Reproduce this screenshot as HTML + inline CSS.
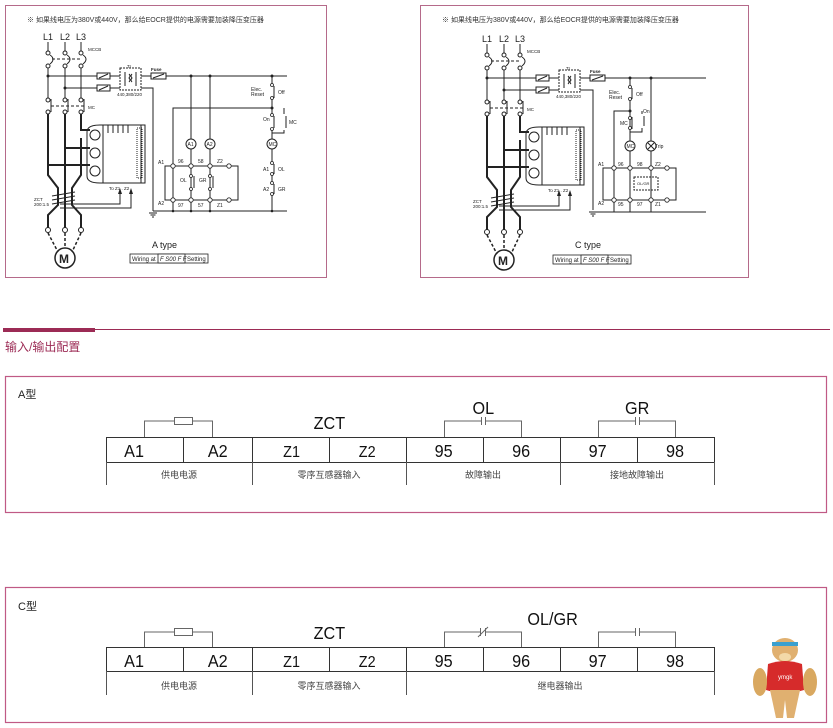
<!DOCTYPE html>
<html><head><meta charset="utf-8"><style>
html,body{margin:0;padding:0;background:#fff;width:833px;height:728px;overflow:hidden}
svg text{font-family:"Liberation Sans","Noto Sans CJK SC",sans-serif}
</style></head><body>
<svg width="833" height="728" viewBox="0 0 833 728" xmlns="http://www.w3.org/2000/svg">
<rect x="5.5" y="5.5" width="321" height="272" fill="none" stroke="#b56a8a" stroke-width="1"/>
<rect x="420.5" y="5.5" width="328" height="272" fill="none" stroke="#b56a8a" stroke-width="1"/>
<text x="27" y="22" font-size="7" fill="#333">※ 如果线电压为380V或440V，那么给EOCR提供的电源需要加装降压变压器</text>
<text x="442" y="22" font-size="7" fill="#333">※ 如果线电压为380V或440V，那么给EOCR提供的电源需要加装降压变压器</text>

<g>
<g stroke="#222" fill="none" stroke-width="1">
 <line x1="48" y1="42" x2="48" y2="51"/><line x1="65" y1="42" x2="65" y2="51"/><line x1="81" y1="42" x2="81" y2="51"/>
 <circle cx="48" cy="53" r="2"/><circle cx="65" cy="53" r="2"/><circle cx="81" cy="53" r="2"/>
 <path d="M50 55 Q56 59 50 64 M67 55 Q73 59 67 64 M83 55 Q89 59 83 64"/>
 <line x1="52" y1="59" x2="82" y2="59" stroke-dasharray="3,2"/>
 <circle cx="48" cy="66" r="2"/><circle cx="65" cy="66" r="2"/><circle cx="81" cy="66" r="2"/>
 <line x1="48" y1="68" x2="48" y2="98"/><line x1="65" y1="68" x2="65" y2="98"/><line x1="81" y1="68" x2="81" y2="98"/>
 <circle cx="48" cy="100" r="2"/><circle cx="65" cy="100" r="2"/><circle cx="81" cy="100" r="2"/>
 <path d="M51 99 L51 112 M68 99 L68 112 M84 99 L84 112"/>
 <line x1="51" y1="106" x2="84" y2="106" stroke-dasharray="3,2"/>
 <circle cx="48" cy="112" r="2"/><circle cx="65" cy="112" r="2"/><circle cx="81" cy="112" r="2"/>
 <g stroke-width="2">
 <path d="M48 114 L48 175 L58 188 L58 205 L48 215 L48 228"/>
 <path d="M65 114 L65 228"/>
 <path d="M81 114 L81 130 L90 130"/>
 <path d="M65 148 L90 148"/>
 <path d="M48 165 L90 165"/>
 <path d="M81 138 L81 175 L72 188 L72 205 L81 215 L81 228"/>
 </g>
 <line x1="52" y1="196" x2="75" y2="192"/><line x1="52" y1="200" x2="75" y2="196"/><line x1="52" y1="204" x2="75" y2="200"/>
 <circle cx="48" cy="230" r="2.5"/><circle cx="65" cy="230" r="2.5"/><circle cx="81" cy="230" r="2.5"/>
 <path d="M48 233 L58 252 M65 233 L65 247 M81 233 L72 252" stroke-dasharray="3,2" stroke-width="1.5"/>
 <circle cx="65" cy="258" r="10" stroke-width="1.5"/>
 <path d="M87 132 Q87 125 100 125 L145 125 L145 183 L100 183 Q87 183 87 176 Z"/>
 <circle cx="95" cy="135" r="5"/><circle cx="95" cy="153" r="5"/><circle cx="95" cy="171" r="5"/>
 <rect x="103" y="125" width="38" height="58"/>
 <path d="M108 125 v8 M113 125 v8 M118 125 v8 M123 125 v8 M128 125 v8"/>
 <rect x="137" y="128" width="5" height="50" stroke-dasharray="1,1"/>
 <path d="M60 204 L120 204 L120 193 M60 208 L131 208 L131 193"/>
 <line x1="48" y1="76" x2="97" y2="76"/><line x1="110" y1="76" x2="120" y2="76"/><line x1="141" y1="76" x2="151" y2="76"/>
 <line x1="65" y1="88" x2="97" y2="88"/><line x1="110" y1="88" x2="120" y2="88"/>
 <rect x="97" y="73" width="13" height="6"/><line x1="99" y1="78" x2="108" y2="74"/>
 <rect x="97" y="85" width="13" height="6"/><line x1="99" y1="90" x2="108" y2="86"/>
 <rect x="120" y="68" width="21" height="22" stroke-dasharray="2,1"/>
 <path d="M125 72 v14 M136 72 v14 M129 74 q2 2 0 4 q2 2 0 4 M132 74 q-2 2 0 4 q-2 2 0 4"/>
 <rect x="151" y="73" width="15" height="6"/><line x1="153" y1="78" x2="164" y2="74"/>
</g>
<g fill="#222"><polygon points="120,188 118,194 122,194"/><polygon points="131,188 129,194 133,194"/>
<circle cx="48" cy="76" r="1.5"/><circle cx="65" cy="88" r="1.5"/></g>
<g fill="#222" font-size="9"><text x="43" y="40">L1</text><text x="60" y="40">L2</text><text x="76" y="40">L3</text>
<text x="59" y="263" font-size="12" font-weight="bold">M</text></g>
<g fill="#222" font-size="4.5"><text x="88" y="51">MCCB</text><text x="88" y="109">MC</text><text x="127" y="68">Tr</text>
<text x="117" y="96">440,380/220</text><text x="151" y="71" font-weight="bold">Fuse</text>
<text x="34" y="201">ZCT</text><text x="34" y="206">200:1.5</text><text x="109" y="190">To Z1 . Z2</text></g>
</g>

<g transform="translate(439,2)">
<g stroke="#222" fill="none" stroke-width="1">
 <line x1="48" y1="42" x2="48" y2="51"/><line x1="65" y1="42" x2="65" y2="51"/><line x1="81" y1="42" x2="81" y2="51"/>
 <circle cx="48" cy="53" r="2"/><circle cx="65" cy="53" r="2"/><circle cx="81" cy="53" r="2"/>
 <path d="M50 55 Q56 59 50 64 M67 55 Q73 59 67 64 M83 55 Q89 59 83 64"/>
 <line x1="52" y1="59" x2="82" y2="59" stroke-dasharray="3,2"/>
 <circle cx="48" cy="66" r="2"/><circle cx="65" cy="66" r="2"/><circle cx="81" cy="66" r="2"/>
 <line x1="48" y1="68" x2="48" y2="98"/><line x1="65" y1="68" x2="65" y2="98"/><line x1="81" y1="68" x2="81" y2="98"/>
 <circle cx="48" cy="100" r="2"/><circle cx="65" cy="100" r="2"/><circle cx="81" cy="100" r="2"/>
 <path d="M51 99 L51 112 M68 99 L68 112 M84 99 L84 112"/>
 <line x1="51" y1="106" x2="84" y2="106" stroke-dasharray="3,2"/>
 <circle cx="48" cy="112" r="2"/><circle cx="65" cy="112" r="2"/><circle cx="81" cy="112" r="2"/>
 <g stroke-width="2">
 <path d="M48 114 L48 175 L58 188 L58 205 L48 215 L48 228"/>
 <path d="M65 114 L65 228"/>
 <path d="M81 114 L81 130 L90 130"/>
 <path d="M65 148 L90 148"/>
 <path d="M48 165 L90 165"/>
 <path d="M81 138 L81 175 L72 188 L72 205 L81 215 L81 228"/>
 </g>
 <line x1="52" y1="196" x2="75" y2="192"/><line x1="52" y1="200" x2="75" y2="196"/><line x1="52" y1="204" x2="75" y2="200"/>
 <circle cx="48" cy="230" r="2.5"/><circle cx="65" cy="230" r="2.5"/><circle cx="81" cy="230" r="2.5"/>
 <path d="M48 233 L58 252 M65 233 L65 247 M81 233 L72 252" stroke-dasharray="3,2" stroke-width="1.5"/>
 <circle cx="65" cy="258" r="10" stroke-width="1.5"/>
 <path d="M87 132 Q87 125 100 125 L145 125 L145 183 L100 183 Q87 183 87 176 Z"/>
 <circle cx="95" cy="135" r="5"/><circle cx="95" cy="153" r="5"/><circle cx="95" cy="171" r="5"/>
 <rect x="103" y="125" width="38" height="58"/>
 <path d="M108 125 v8 M113 125 v8 M118 125 v8 M123 125 v8 M128 125 v8"/>
 <rect x="137" y="128" width="5" height="50" stroke-dasharray="1,1"/>
 <path d="M60 204 L120 204 L120 193 M60 208 L131 208 L131 193"/>
 <line x1="48" y1="76" x2="97" y2="76"/><line x1="110" y1="76" x2="120" y2="76"/><line x1="141" y1="76" x2="151" y2="76"/>
 <line x1="65" y1="88" x2="97" y2="88"/><line x1="110" y1="88" x2="120" y2="88"/>
 <rect x="97" y="73" width="13" height="6"/><line x1="99" y1="78" x2="108" y2="74"/>
 <rect x="97" y="85" width="13" height="6"/><line x1="99" y1="90" x2="108" y2="86"/>
 <rect x="120" y="68" width="21" height="22" stroke-dasharray="2,1"/>
 <path d="M125 72 v14 M136 72 v14 M129 74 q2 2 0 4 q2 2 0 4 M132 74 q-2 2 0 4 q-2 2 0 4"/>
 <rect x="151" y="73" width="15" height="6"/><line x1="153" y1="78" x2="164" y2="74"/>
</g>
<g fill="#222"><polygon points="120,188 118,194 122,194"/><polygon points="131,188 129,194 133,194"/>
<circle cx="48" cy="76" r="1.5"/><circle cx="65" cy="88" r="1.5"/></g>
<g fill="#222" font-size="9"><text x="43" y="40">L1</text><text x="60" y="40">L2</text><text x="76" y="40">L3</text>
<text x="59" y="263" font-size="12" font-weight="bold">M</text></g>
<g fill="#222" font-size="4.5"><text x="88" y="51">MCCB</text><text x="88" y="109">MC</text><text x="127" y="68">Tr</text>
<text x="117" y="96">440,380/220</text><text x="151" y="71" font-weight="bold">Fuse</text>
<text x="34" y="201">ZCT</text><text x="34" y="206">200:1.5</text><text x="109" y="190">To Z1 . Z2</text></g>
</g>

<g stroke="#222" fill="none" stroke-width="1">
 <line x1="166" y1="76" x2="287" y2="76"/>
 <path d="M141 88 L153 88 L153 211"/>
 <path d="M149 213 h8 M150.5 215 h5 M152 217 h2"/>
 <line x1="153" y1="211" x2="287" y2="211"/>
 <line x1="191" y1="76" x2="191" y2="139"/><circle cx="191" cy="144" r="5"/><line x1="191" y1="149" x2="191" y2="211"/>
 <line x1="210" y1="76" x2="210" y2="139"/><circle cx="210" cy="144" r="5"/><line x1="210" y1="149" x2="210" y2="211"/>
 <path d="M272 108 L173 108 L173 211"/>
 <rect x="165" y="166" width="73" height="34"/>
 <path d="M194 176 v12 M213 176 v12"/>
 <line x1="272" y1="76" x2="272" y2="84"/><path d="M274 86 v12"/><line x1="272" y1="99" x2="272" y2="114"/>
 <path d="M274 116 v12 M284 108 L284 114 M286 116 v12 M284 130 L284 133 L272 133"/>
 <line x1="272" y1="130" x2="272" y2="139"/><circle cx="272" cy="144" r="5"/>
 <line x1="272" y1="149" x2="272" y2="162"/><path d="M274 164 v10"/><line x1="272" y1="175" x2="272" y2="182"/>
 <path d="M274 184 v10"/><line x1="272" y1="195" x2="272" y2="211"/>
</g>
<g fill="#fff" stroke="#222" stroke-width="0.8">
 <circle cx="173" cy="166" r="2.2"/><circle cx="191" cy="166" r="2.2"/><circle cx="210" cy="166" r="2.2"/><circle cx="229" cy="166" r="2.2"/>
 <circle cx="173" cy="200" r="2.2"/><circle cx="191" cy="200" r="2.2"/><circle cx="210" cy="200" r="2.2"/><circle cx="229" cy="200" r="2.2"/>
 <circle cx="191" cy="176" r="1.5"/><circle cx="191" cy="189" r="1.5"/><circle cx="210" cy="176" r="1.5"/><circle cx="210" cy="189" r="1.5"/>
 <circle cx="272" cy="85" r="1.5"/><circle cx="272" cy="98" r="1.5"/><circle cx="272" cy="115" r="1.5"/><circle cx="272" cy="129" r="1.5"/>
 <circle cx="272" cy="163" r="1.5"/><circle cx="272" cy="174" r="1.5"/><circle cx="272" cy="183" r="1.5"/><circle cx="272" cy="194" r="1.5"/>
</g>
<g fill="#222"><circle cx="191" cy="76" r="1.5"/><circle cx="210" cy="76" r="1.5"/><circle cx="272" cy="76" r="1.5"/><circle cx="272" cy="108" r="1.5"/><circle cx="173" cy="211" r="1.3"/><circle cx="191" cy="211" r="1.3"/><circle cx="210" cy="211" r="1.3"/><circle cx="272" cy="211" r="1.3"/></g>
<g fill="#222" font-size="5">
 <text x="187.5" y="146">A1</text><text x="206.5" y="146">A2</text><text x="268.5" y="146">MC</text>
 <text x="158" y="164">A1</text><text x="178" y="163">96</text><text x="198" y="163">58</text><text x="217" y="163">Z2</text>
 <text x="180" y="182">OL</text><text x="199" y="182">GR</text>
 <text x="158" y="205">A2</text><text x="178" y="207">97</text><text x="198" y="207">57</text><text x="217" y="207">Z1</text>
 <text x="251" y="91">Elec.</text><text x="251" y="96">Reset</text><text x="278" y="94">Off</text>
 <text x="263" y="121">On</text><text x="289" y="124">MC</text>
 <text x="263" y="171">A1</text><text x="278" y="171">OL</text><text x="263" y="191">A2</text><text x="278" y="191">GR</text>
</g>
<text x="152" y="248" font-size="9" font-family="Liberation Mono" fill="#222">A type</text>
<rect x="130" y="254" width="78" height="9" fill="none" stroke="#222" stroke-width="0.8"/>
<rect x="158" y="254" width="27" height="9" fill="#fff" stroke="#222" stroke-width="0.8"/>
<g fill="#222" font-size="6"><text x="132" y="261">Wiring at</text><text x="160" y="261" font-style="italic">F S00 F F</text><text x="187" y="261">Setting</text></g>

<g stroke="#222" fill="none" stroke-width="1">
 <line x1="605" y1="78" x2="706" y2="78"/>
 <path d="M580 90 L593 90 L593 210"/>
 <path d="M589 212 h8 M590.5 214 h5 M592 216 h2"/>
 <line x1="593" y1="212" x2="706" y2="212"/>
 <line x1="630" y1="78" x2="630" y2="86"/><path d="M632 88 v11"/><line x1="630" y1="100" x2="630" y2="141"/>
 <path d="M630 111 L614 111 L614 212"/>
 <path d="M632 117 v12 M642 111 L642 114 M644 116 v10 M642 128 L642 132 L630 132"/>
 <circle cx="630" cy="146" r="5"/><line x1="630" y1="151" x2="630" y2="212"/>
 <line x1="651" y1="78" x2="651" y2="141"/><circle cx="651" cy="146" r="5"/><line x1="651" y1="151" x2="651" y2="212"/>
 <path d="M648 143 l6 6 M654 143 l-6 6"/>
 <rect x="603" y="168" width="73" height="32"/>
 <rect x="634" y="177" width="24" height="13" stroke-dasharray="2,1"/>
</g>
<g fill="#fff" stroke="#222" stroke-width="0.8">
 <circle cx="614" cy="168" r="2.2"/><circle cx="630" cy="168" r="2.2"/><circle cx="651" cy="168" r="2.2"/><circle cx="667" cy="168" r="2.2"/>
 <circle cx="614" cy="200" r="2.2"/><circle cx="630" cy="200" r="2.2"/><circle cx="651" cy="200" r="2.2"/><circle cx="667" cy="200" r="2.2"/>
 <circle cx="630" cy="87" r="1.5"/><circle cx="630" cy="99" r="1.5"/><circle cx="630" cy="118" r="1.5"/><circle cx="630" cy="128" r="1.5"/>
</g>
<g fill="#222"><circle cx="630" cy="78" r="1.5"/><circle cx="651" cy="78" r="1.5"/><circle cx="630" cy="111" r="1.5"/></g>
<g fill="#222" font-size="5">
 <text x="626.5" y="148">MC</text><text x="655" y="148">Trip</text>
 <text x="598" y="166">A1</text><text x="618" y="166">96</text><text x="637" y="166">98</text><text x="655" y="166">Z2</text>
 <text x="637" y="185" font-size="4">OL/GR</text>
 <text x="598" y="205">A2</text><text x="618" y="206">95</text><text x="637" y="206">97</text><text x="655" y="206">Z1</text>
 <text x="609" y="94">Elec.</text><text x="609" y="99">Reset</text><text x="636" y="96">Off</text>
 <text x="643" y="113">On</text><text x="620" y="125">MC</text>
</g>
<text x="575" y="248" font-size="9" font-family="Liberation Mono" fill="#222">C type</text>
<rect x="553" y="255" width="78" height="9" fill="none" stroke="#222" stroke-width="0.8"/>
<rect x="581" y="255" width="27" height="9" fill="#fff" stroke="#222" stroke-width="0.8"/>
<g fill="#222" font-size="6"><text x="555" y="262">Wiring at</text><text x="583" y="262" font-style="italic">F S00 F F</text><text x="610" y="262">Setting</text></g>

<rect x="3" y="328" width="92" height="4" fill="#9c2b55"/>
<line x1="95" y1="329.5" x2="830" y2="329.5" stroke="#9c2b55" stroke-width="1"/>
<text x="5" y="351" font-size="12" fill="#9c2b55">输入/输出配置</text>

<rect x="5.5" y="376.5" width="821" height="136" fill="none" stroke="#c05a85" stroke-width="1.2"/>
<text x="18" y="398" font-size="11" fill="#222">A型</text>
<g stroke="#333" fill="none" stroke-width="1">
 <rect x="106.5" y="437.5" width="608" height="25"/>
 <path d="M183.5 437v25 M252.5 437v25 M329.5 437v25 M406.5 437v25 M483.5 437v25 M560.5 437v25 M637.5 437v25"/>
 <path d="M106.5 462v23 M252.5 462v23 M406.5 462v23 M560.5 462v23 M714.5 462v23" stroke="#555"/>
 <path d="M144.5 437V421H174 M193 421H212.5V437" stroke="#666"/>
 <rect x="174.5" y="417.5" width="18" height="7" stroke="#666"/>
 <path d="M444.5 437V421H481 M486 421H521.5V437 M481.5 417v8 M485.5 417v8" stroke="#666"/>
 <path d="M598.5 437V421H635 M640 421H675.5V437 M635.5 417v8 M639.5 417v8" stroke="#666"/>
</g>
<g font-size="18" fill="#111" text-anchor="middle" transform="scale(0.9,1)">
 <text x="149" y="457">A1</text><text x="242" y="457">A2</text>
 <text x="324" y="457" font-size="16">Z1</text><text x="408" y="457" font-size="16">Z2</text>
 <text x="493" y="457">95</text><text x="579" y="457">96</text><text x="664" y="457">97</text><text x="750" y="457">98</text>
 <text x="366" y="429">ZCT</text><text x="537" y="414">OL</text><text x="708" y="414">GR</text>
</g>
<g font-size="9" fill="#444" text-anchor="middle">
 <text x="179" y="478">供电电源</text><text x="329" y="478">零序互感器输入</text><text x="483" y="478">故障输出</text><text x="637" y="478">接地故障输出</text>
</g>

<rect x="5.5" y="587.5" width="821" height="135" fill="none" stroke="#c05a85" stroke-width="1.2"/>
<text x="18" y="610" font-size="11" fill="#222">C型</text>
<g stroke="#333" fill="none" stroke-width="1">
 <rect x="106.5" y="647.5" width="608" height="24"/>
 <path d="M183.5 647v24 M252.5 647v24 M329.5 647v24 M406.5 647v24 M483.5 647v24 M560.5 647v24 M637.5 647v24"/>
 <path d="M106.5 671v24 M252.5 671v24 M406.5 671v24 M714.5 671v24" stroke="#555"/>
 <path d="M144.5 647V632H174 M193 632H212.5V647" stroke="#666"/>
 <rect x="174.5" y="628.5" width="18" height="7" stroke="#666"/>
 <path d="M444.5 647V632H480 M486 632H521.5V647 M480.5 628v8 M485.5 628v8 M478 637 L488 627" stroke="#666"/>
 <path d="M598.5 647V632H635 M640 632H675.5V647 M635.5 628v8 M639.5 628v8" stroke="#666"/>
</g>
<g font-size="18" fill="#111" text-anchor="middle" transform="scale(0.9,1)">
 <text x="149" y="667">A1</text><text x="242" y="667">A2</text>
 <text x="324" y="667" font-size="16">Z1</text><text x="408" y="667" font-size="16">Z2</text>
 <text x="493" y="667">95</text><text x="579" y="667">96</text><text x="664" y="667">97</text><text x="750" y="667">98</text>
 <text x="366" y="639">ZCT</text><text x="614" y="625">OL/GR</text>
</g>
<g font-size="9" fill="#444" text-anchor="middle">
 <text x="179" y="689">供电电源</text><text x="329" y="689">零序互感器输入</text><text x="560" y="689">继电器输出</text>
</g>

<g>
 <ellipse cx="785" cy="650" rx="13" ry="12" fill="#e0b070"/>
 <rect x="772" y="642" width="26" height="4" fill="#3aa0d0"/>
 <ellipse cx="785" cy="657" rx="6" ry="4" fill="#f3d9a8"/>
 <path d="M768 664 Q785 658 802 664 L804 690 Q785 696 766 690 Z" fill="#d62b2b"/>
 <text x="778" y="679" font-size="6" fill="#fff">ymgk</text>
 <ellipse cx="760" cy="682" rx="7" ry="14" fill="#d9a860"/>
 <ellipse cx="810" cy="682" rx="7" ry="14" fill="#d9a860"/>
 <path d="M770 690 L776 718 L783 718 L785 700 L787 718 L794 718 L800 690 Z" fill="#e0b070"/>
</g>
</svg>
</body></html>
